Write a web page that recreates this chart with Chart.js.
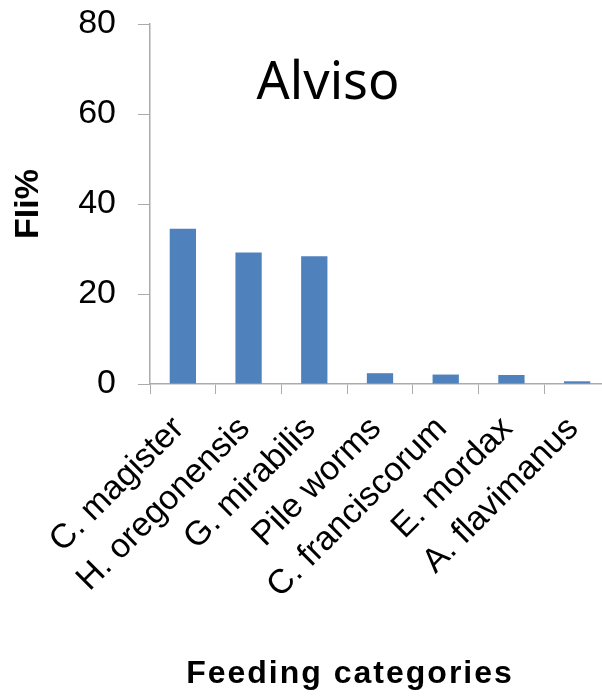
<!DOCTYPE html>
<html>
<head>
<meta charset="utf-8">
<script src="https://cdn.jsdelivr.net/npm/chart.js@4"></script>
<style>
  html, body { margin: 0; padding: 0; background: #fff; overflow: hidden; }
  #wrap { width: 612px; height: 697px; }
</style>
</head>
<body>
<div id="wrap"><canvas id="fli_bar"></canvas></div>
<script>
// data
var categories = ['C. magister', 'H. oregonensis', 'G. mirabilis', 'Pile worms',
                  'C. franciscorum', 'E. mordax', 'A. flavimanus'];
var fliValues = [34.5, 29.2, 28.4, 2.4, 2.1, 2.0, 0.6];
var yTicks = [0, 20, 40, 60, 80];
var siteName = 'Alviso';
var xTitle = 'Feeding categories';

var axisGray = '#ABABAB';
var sans = '"Liberation Sans", Arial';

// site name inside the plot, x title under the labels
var extraText = {
    id: 'extraText',
    afterDraw: function(chart) {
        var ctx = chart.ctx;
        ctx.save();
        ctx.fillStyle = '#000';
        ctx.textAlign = 'center';
        ctx.textBaseline = 'alphabetic';
        ctx.font = '52px "Noto Sans"';
        ctx.fillText(siteName, 328, 99);
        ctx.font = 'bold 32px ' + sans;
        ctx.letterSpacing = '2px';
        ctx.fillText(xTitle, 350, 683);
        ctx.restore();
    }
};

var ctx = document.getElementById('fli_bar');
var fliChart = new Chart(ctx, {
    type: 'bar',
    data: {
        labels: categories,
        datasets: [{
            label: 'FIi%',
            data: fliValues,
            backgroundColor: '#4F81BD',
            borderWidth: 0,
            categoryPercentage: 1,
            barPercentage: 0.4
        }]
    },
    options: {
        responsive: true,
        maintainAspectRatio: false,
        animation: false,
        layout: { padding: { left: 0, right: 2, top: 24, bottom: 0 } },
        plugins: {
            legend: { display: false },
            tooltip: { enabled: false }
        },
        scales: {
            x: {
                afterFit: function(axis) {
                    axis.paddingLeft = 0;
                    axis.paddingRight = 0;
                    axis.height = 313;
                },
                grid: {
                    display: true,
                    drawOnChartArea: false,
                    drawTicks: true,
                    tickLength: 10,
                    color: axisGray,
                    offset: true
                },
                border: { color: axisGray, width: 1.5 },
                ticks: {
                    autoSkip: false,
                    maxRotation: 45,
                    minRotation: 45,
                    padding: 15,
                    labelOffset: -4,
                    color: '#000',
                    font: { family: sans, size: 34 }
                }
            },
            y: {
                min: 0,
                max: 80,
                afterBuildTicks: function(axis) {
                    axis.ticks = yTicks.map(function(v) { return { value: v }; });
                },
                afterFit: function(axis) {
                    axis.width = 150;
                    axis.paddingTop = 0;
                    axis.paddingBottom = 0;
                },
                grid: {
                    display: true,
                    drawOnChartArea: false,
                    drawTicks: true,
                    tickLength: 12,
                    color: axisGray
                },
                border: { color: axisGray, width: 1.5 },
                ticks: {
                    padding: 22,
                    color: '#000',
                    font: { family: sans, size: 34 }
                },
                title: {
                    display: true,
                    text: 'FIi%',
                    color: '#000',
                    padding: { top: 8, bottom: 0 },
                    font: { family: sans, size: 34, weight: 'bold' }
                }
            }
        }
    },
    plugins: [extraText]
});
</script>
</body>
</html>
